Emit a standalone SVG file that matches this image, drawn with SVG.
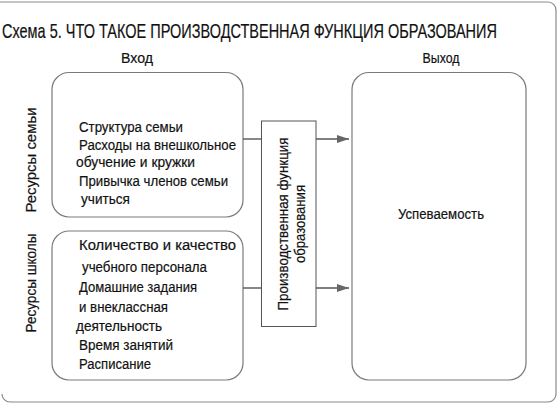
<svg xmlns="http://www.w3.org/2000/svg" width="558" height="404" viewBox="0 0 558 404">
<defs>
<style>
text{font-family:"Liberation Sans Narrow","Liberation Sans",Arial,sans-serif;fill:#111;stroke:#111;stroke-width:0.2;}
.t{font-size:15.5px;}
.title{font-size:20px;}
.box{fill:#fff;stroke:#7a7a7a;stroke-width:1.2;}
.pbox{fill:#fff;stroke:#555;stroke-width:1;}
.frame{fill:none;stroke:#8a8a8a;stroke-width:1.2;}
.conn{stroke:#555;stroke-width:1.4;fill:none;}
</style>
<marker id="ah" markerWidth="12" markerHeight="8" refX="12" refY="4" orient="auto" markerUnits="userSpaceOnUse">
<path d="M0,0 L12,4 L0,8 Z" fill="#666"/>
</marker>
</defs>
<rect width="558" height="404" fill="#fff"/>
<path class="frame" d="M0,2 H548 A8,8 0 0 1 556,10 V394 A8,8 0 0 1 548,402 H10 A8,8 0 0 1 2,394"/>
<text class="title" transform="translate(2,38) scale(0.78,1)" x="0" y="0" textLength="634.6" lengthAdjust="spacingAndGlyphs">Схема 5. ЧТО ТАКОЕ ПРОИЗВОДСТВЕННАЯ ФУНКЦИЯ ОБРАЗОВАНИЯ</text>
<text class="t" x="137" y="63" text-anchor="middle" textLength="32" lengthAdjust="spacingAndGlyphs">Вход</text>
<text class="t" x="441" y="63" text-anchor="middle" textLength="37" lengthAdjust="spacingAndGlyphs">Выход</text>
<g id="family">
<rect class="box" x="52" y="72.5" width="191" height="144.5" rx="17"/>
<text class="t" x="79" y="132" textLength="104" lengthAdjust="spacingAndGlyphs">Структура семьи</text>
<text class="t" x="79" y="150" textLength="157" lengthAdjust="spacingAndGlyphs">Расходы на внешкольное</text>
<text class="t" x="76" y="167" textLength="119" lengthAdjust="spacingAndGlyphs">обучение и кружки</text>
<text class="t" x="79" y="186" textLength="149" lengthAdjust="spacingAndGlyphs">Привычка членов семьи</text>
<text class="t" x="81" y="204" textLength="49" lengthAdjust="spacingAndGlyphs">учиться</text>
</g>
<g id="family-label">
<text class="t" transform="translate(36,160) rotate(-90)" text-anchor="middle" textLength="105" lengthAdjust="spacingAndGlyphs">Ресурсы семьи</text>
</g>
<g id="school">
<rect class="box" x="52" y="231" width="191" height="149" rx="17"/>
<text class="t" x="79" y="250" textLength="157" lengthAdjust="spacingAndGlyphs">Количество и качество</text>
<text class="t" x="82" y="272" textLength="125" lengthAdjust="spacingAndGlyphs">учебного персонала</text>
<text class="t" x="79" y="292" textLength="118" lengthAdjust="spacingAndGlyphs">Домашние задания</text>
<text class="t" x="79" y="312" textLength="89" lengthAdjust="spacingAndGlyphs">и внеклассная</text>
<text class="t" x="76" y="331" textLength="86" lengthAdjust="spacingAndGlyphs">деятельность</text>
<text class="t" x="79" y="350" textLength="94" lengthAdjust="spacingAndGlyphs">Время занятий</text>
<text class="t" x="79" y="369" textLength="72" lengthAdjust="spacingAndGlyphs">Расписание</text>
</g>
<g id="school-label">
<text class="t" transform="translate(36,283) rotate(-90)" text-anchor="middle" textLength="99" lengthAdjust="spacingAndGlyphs">Ресурсы школы</text>
</g>
<g id="connectors">
<line class="conn" x1="243" y1="139" x2="261" y2="139"/>
<line class="conn" x1="243" y1="288" x2="261" y2="288"/>
<line class="conn" x1="316" y1="139" x2="349" y2="139" marker-end="url(#ah)"/>
<line class="conn" x1="316" y1="288" x2="349" y2="288" marker-end="url(#ah)"/>
</g>
<g id="production">
<rect class="pbox" x="261.5" y="121" width="54.5" height="205.5"/>
<text class="t" transform="translate(288,224) rotate(-90)" text-anchor="middle" textLength="173" lengthAdjust="spacingAndGlyphs">Производственная функция</text>
<text class="t" transform="translate(305,224) rotate(-90)" text-anchor="middle" textLength="78" lengthAdjust="spacingAndGlyphs">образования</text>
</g>
<g id="output">
<rect class="box" x="352" y="72.5" width="174" height="307.5" rx="17"/>
<text class="t" x="441" y="219" text-anchor="middle" textLength="86" lengthAdjust="spacingAndGlyphs">Успеваемость</text>
</g>
</svg>
